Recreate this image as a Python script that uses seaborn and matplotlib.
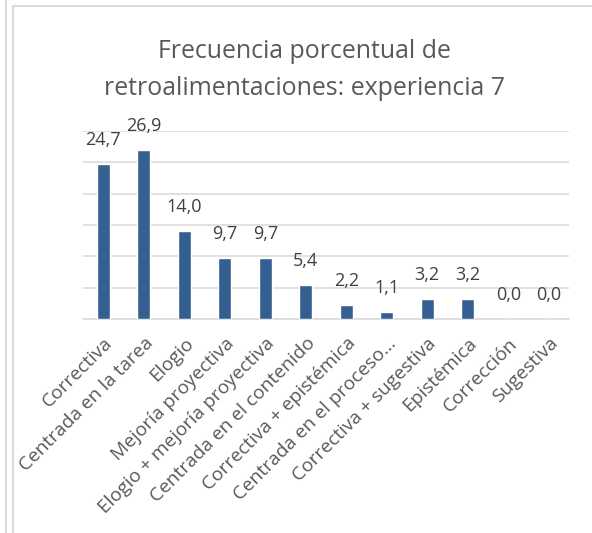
import matplotlib
matplotlib.use("Agg")
import matplotlib.pyplot as plt
import seaborn as sns
import pandas as pd
from matplotlib.lines import Line2D

categories = ["Correctiva", "Centrada en la tarea", "Elogio", "Mejoría proyectiva",
              "Elogio + mejoría proyectiva", "Centrada en el contenido",
              "Correctiva + epistémica", "Centrada en el proceso…",
              "Correctiva + sugestiva", "Epistémica", "Corrección", "Sugestiva"]
values = [24.7, 26.9, 14.0, 9.7, 9.7, 5.4, 2.2, 1.1, 3.2, 3.2, 0.0, 0.0]
title = "Frecuencia porcentual de\nretroalimentaciones: experiencia 7"

sns.set_theme(style="white")
plt.rcParams["font.family"] = ["Open Sans", "DejaVu Sans"]

df = pd.DataFrame({"cat": categories, "val": values})

W, H = 592, 533
fig = plt.figure(figsize=(W / 100, H / 100), dpi=100)
ax = fig.add_axes([83 / W, 1 - 319 / H, (569 - 83) / W, (319 - 131) / H])

sns.barplot(data=df, x="cat", y="val", color="#365F91", width=0.31,
            saturation=1, ax=ax, zorder=3)

ax.set_ylim(0, 30)
ax.set_yticks(range(0, 31, 5))
ax.yaxis.grid(True, color="#D9D9D9", lw=1.1, zorder=0)
ax.set_yticklabels([])
ax.tick_params(axis="y", length=0)
for s in ["left", "right", "top"]:
    ax.spines[s].set_visible(False)
ax.spines["bottom"].set_color("#D9D9D9")
ax.spines["bottom"].set_linewidth(1.1)
ax.set_xlabel("")
ax.set_ylabel("")
ax.tick_params(axis="x", length=0, pad=11)
ax.set_xticks(range(len(categories)))
ax.set_xticklabels(categories, rotation=45, ha="right", rotation_mode="anchor",
                   fontsize=13.8, color="#595959")

for i, v in enumerate(values):
    ax.annotate(f"{v:.1f}".replace(".", ","), (i, v), xytext=(0, 11), textcoords="offset points",
                ha="center", va="bottom", fontsize=13, color="#404040")

fig.text(304 / W, 1 - 70 / H, title, ha="center", va="center", fontsize=17.9,
         color="#595959", linespacing=1.6)

# frame lines
fig.add_artist(Line2D([5.5 / W, 5.5 / W], [0, 1], color="#D9D9D9", lw=1.5))
fig.add_artist(Line2D([13 / W, 13 / W], [0, 1 - 6 / H], color="#D9D9D9", lw=1.5))
fig.add_artist(Line2D([13 / W, 1], [1 - 6 / H, 1 - 6 / H], color="#D9D9D9", lw=1.5))

fig.savefig("out.png", dpi=100)
